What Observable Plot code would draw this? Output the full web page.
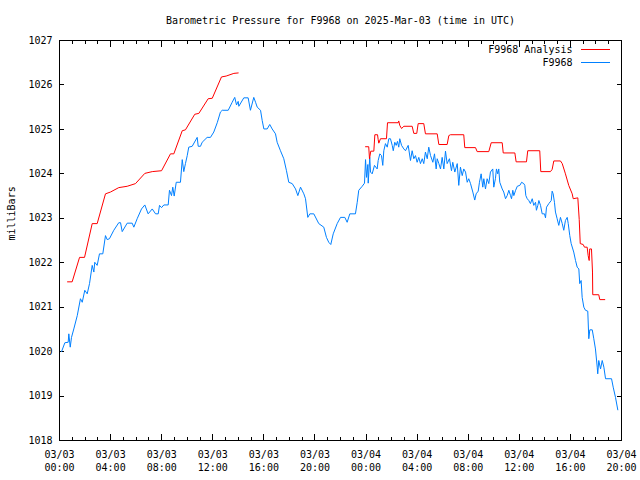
<!DOCTYPE html>
<html><head><meta charset="utf-8">
<script src="https://cdn.jsdelivr.net/npm/d3@7"></script>
<script src="https://cdn.jsdelivr.net/npm/@observablehq/plot@0.6"></script>
<style>body{margin:0;background:#fff} svg{display:block}</style>
</head><body><div id="chart"></div>
<script>
const title = "Barometric Pressure for F9968 on 2025-Mar-03 (time in UTC)";
const yLabel = "milliBars";
const seriesNames = ["F9968 Analysis", "F9968"];
const seriesColors = ["#ff0000", "#0080ff"];
const startTime = Date.UTC(2025, 2, 3, 0, 0);
const spanHours = 44;
const yTicks = [1018, 1019, 1020, 1021, 1022, 1023, 1024, 1025, 1026, 1027];
const xLabelHours = [0, 4, 8, 12, 16, 20, 24, 28, 32, 36, 40, 44];
const xLabelDates = ["03/03", "03/03", "03/03", "03/03", "03/03", "03/03", "03/04", "03/04", "03/04", "03/04", "03/04", "03/04"];
const xLabelTimes = ["00:00", "04:00", "08:00", "12:00", "16:00", "20:00", "00:00", "04:00", "08:00", "12:00", "16:00", "20:00"];

const analysisHours = [0.63,0.99,1.57,1.96,2.56,2.95,3.60,3.99,4.64,5.30,5.95,6.68,7.26,7.99,8.69,8.95,9.61,9.86,10.59,10.91,11.64,11.96,12.68,13.05,13.65,13.99,
 19.0,
 23.96,24.21,24.27,24.37,24.61,24.69,24.90,24.95,25.00,25.13,25.60,25.68,26.52,26.56,26.64,26.78,26.96,27.61,27.74,27.97,28.08,28.52,28.65,29.57,29.70,30.35,30.48,30.61,31.65,31.73,32.57,32.70,33.61,33.80,34.66,34.74,35.65,35.75,36.56,36.66,37.60,37.68,38.44,38.57,38.70,39.22,39.36,39.61,39.87,40.14,40.22,40.58,40.69,40.77,41.00,41.10,41.31,41.39,41.47,41.51,41.65,41.73,41.75,42.22,42.30,42.69];
const analysisValues = [1021.57,1021.57,1022.12,1022.12,1022.88,1022.88,1023.55,1023.59,1023.69,1023.72,1023.78,1024.01,1024.05,1024.07,1024.45,1024.45,1024.97,1024.99,1025.34,1025.36,1025.69,1025.70,1026.18,1026.20,1026.26,1026.27,
 null,
 1024.61,1024.61,1024.34,1024.51,1024.51,1024.88,1024.88,1024.77,1024.69,1024.79,1024.79,1025.15,1025.15,1025.19,1025.09,1025.02,1025.07,1025.07,1024.91,1024.91,1025.13,1025.13,1024.90,1024.90,1024.66,1024.66,1024.86,1024.88,1024.88,1024.59,1024.59,1024.50,1024.50,1024.70,1024.70,1024.47,1024.47,1024.27,1024.27,1024.52,1024.52,1024.05,1024.05,1024.10,1024.29,1024.29,1024.23,1024.00,1023.74,1023.55,1023.44,1023.46,1022.97,1022.43,1022.41,1022.35,1022.35,1022.16,1022.05,1022.31,1022.31,1021.79,1021.28,1021.28,1021.17,1021.17];

const stationHours = [0.16,0.42,0.68,0.73,0.84,0.94,1.12,1.39,1.64,1.78,
 1.98,2.17,2.35,2.56,2.69,2.76,2.95,3.13,3.39,3.60,
 3.73,3.91,4.25,4.64,4.78,4.91,5.30,5.69,5.82,6.08,
 6.42,6.68,6.94,7.26,7.52,7.73,7.83,7.99,8.17,8.51,
 8.61,8.77,8.87,8.98,9.14,9.47,9.61,9.73,9.86,10.00,
 10.12,10.39,10.78,10.86,11.04,11.17,11.56,11.82,12.08,12.35,
 12.60,12.74,13.21,13.52,13.72,13.86,13.99,14.04,14.43,14.77,
 14.95,15.21,15.35,15.48,15.74,15.87,16.00,16.26,16.46,16.65,
 16.91,17.04,17.30,17.56,17.77,17.95,18.22,18.48,18.66,18.87,
 19.13,19.26,19.44,19.60,19.91,20.30,20.69,20.90,21.08,21.24,
 21.43,21.74,22.00,22.34,22.52,22.73,23.17,23.31,23.43,23.70,
 23.88,23.96,24.04,24.14,24.17,24.29,24.35,24.48,24.66,24.87,
 24.95,25.08,
 25.21,25.31,25.39,25.52,25.66,25.78,25.91,26.05,26.13,26.25,
 26.36,26.46,26.56,26.64,26.78,26.96,27.09,27.30,27.48,27.61,
 27.74,27.87,28.00,28.13,28.26,28.40,28.52,28.65,28.79,28.91,
 29.05,29.23,29.36,29.49,29.57,29.70,29.83,29.96,30.09,30.22,
 30.35,30.53,30.69,30.79,30.95,31.14,31.26,31.39,31.53,31.65,
 31.79,31.92,32.04,32.18,32.36,32.51,32.62,32.78,32.88,33.01,
 33.14,33.22,33.35,33.48,33.61,33.74,33.92,34.00,34.13,34.21,
 34.31,34.39,34.47,34.66,34.78,34.92,35.05,35.18,35.31,35.39,
 35.49,35.57,35.71,35.84,36.04,36.18,36.35,36.43,36.51,36.62,
 36.74,36.87,37.01,37.13,37.27,37.34,37.45,37.53,37.66,37.79,
 37.97,38.05,38.13,38.31,38.50,38.57,38.65,38.75,38.83,38.96,
 39.09,39.22,39.36,39.48,39.61,39.75,39.83,39.95,40.06,40.26,
 40.40,40.53,40.66,40.73,40.84,40.92,41.05,41.18,41.36,41.44,
 41.52,41.71,41.83,41.96,42.10,42.14,42.22,42.36,42.49,42.62,
 42.75,43.22,43.35,43.53,43.71];
const stationValues = [1020.00,1020.20,1020.21,1020.40,1020.10,1020.32,1020.51,1020.81,1021.19,1021.11,
 1021.38,1021.30,1021.53,1021.94,1021.79,1022.01,1021.94,1022.20,1022.20,1022.61,
 1022.52,1022.54,1022.73,1022.90,1022.90,1022.70,1022.89,1022.89,1022.80,1022.99,
 1023.21,1023.30,1023.10,1023.21,1023.10,1023.10,1023.29,1023.24,1023.30,1023.30,
 1023.63,1023.51,1023.70,1023.50,1023.81,1023.81,1024.32,1024.05,1024.23,1024.41,
 1024.60,1024.62,1024.82,1024.62,1024.62,1024.71,1024.82,1024.82,1024.94,1025.15,
 1025.39,1025.43,1025.43,1025.61,1025.72,1025.55,1025.63,1025.52,1025.71,1025.71,
 1025.43,1025.72,1025.61,1025.50,1025.43,1025.20,1025.01,1025.01,1025.11,1025.01,
 1024.90,1024.71,1024.52,1024.34,1024.07,1023.81,1023.78,1023.66,1023.51,1023.70,
 1023.55,1023.44,1023.02,1023.10,1023.10,1022.88,1022.80,1022.57,1022.46,1022.41,
 1022.65,1022.88,1023.02,1023.02,1022.91,1023.10,1023.10,1023.36,1023.63,1023.72,
 1023.79,1024.32,1023.92,1024.21,1023.79,1024.37,1024.04,1024.00,1024.19,1024.11,
 1024.30,1024.45,
 1024.41,1024.19,1024.52,1024.68,1024.60,1024.79,1024.79,1024.64,1024.52,1024.71,
 1024.64,1024.73,1024.60,1024.79,1024.64,1024.56,1024.52,1024.64,1024.30,1024.52,
 1024.34,1024.41,1024.26,1024.37,1024.23,1024.34,1024.23,1024.49,1024.34,1024.60,
 1024.41,1024.26,1024.45,1024.11,1024.34,1024.23,1024.11,1024.37,1024.11,1024.51,
 1024.23,1024.34,1024.07,1024.26,1024.04,1024.23,1023.74,1024.15,1023.96,1024.11,
 1024.04,1023.81,1023.89,1023.78,1023.59,1023.41,1023.55,1023.61,1023.81,1024.00,
 1023.70,1023.89,1023.66,1023.89,1023.78,1024.04,1024.11,1023.70,1023.89,1024.11,
 1024.00,1024.11,1023.81,1023.66,1023.59,1023.44,1023.51,1023.63,1023.51,1023.44,
 1023.63,1023.51,1023.63,1023.72,1023.74,1023.81,1023.78,1023.74,1023.51,1023.44,
 1023.40,1023.33,1023.44,1023.29,1023.36,1023.18,1023.29,1023.40,1023.29,1023.10,
 1023.10,1023.01,1023.25,1023.33,1023.40,1023.61,1023.55,1023.36,1023.14,1022.99,
 1022.84,1023.02,1022.88,1022.73,1022.95,1023.02,1022.88,1022.61,1022.43,1022.24,
 1022.05,1021.90,1021.86,1021.53,1021.60,1021.22,1021.00,1020.93,1020.91,1020.29,
 1020.49,1020.49,1020.29,1020.06,1019.65,1019.50,1019.80,1019.61,1019.80,1019.65,
 1019.39,1019.39,1019.20,1018.97,1018.69];

const toDate = h => new Date(startTime + h * 3600e3);
const analysis = analysisHours.map((h, i) => ({time: toDate(h), value: analysisValues[i]}));
const station = stationHours.map((h, i) => ({time: toDate(h), value: stationValues[i]}));
const hourTicks = d3.range(0, spanHours + 1).map(toDate);
const labelTicks = xLabelHours.map(toDate);

const W = 640, H = 480, mL = 59, mR = 19, mT = 40, mB = 40;
const font = "'DejaVu Sans Mono', 'Liberation Mono', monospace";

const plot = Plot.plot({
  width: W, height: H,
  marginLeft: mL, marginRight: mR, marginTop: mT, marginBottom: mB,
  style: {fontFamily: font, fontSize: "10px", background: "#fff", color: "#000", overflow: "visible"},
  x: {type: "utc", domain: [toDate(0), toDate(spanHours)], label: null},
  y: {domain: [yTicks[0], yTicks[yTicks.length - 1]], label: null},
  marks: [
    Plot.axisX(hourTicks, {anchor: "bottom", tickSize: 3, dy: -3, tickFormat: () => "", label: null, shapeRendering: "crispEdges"}),
    Plot.axisX(hourTicks, {anchor: "top", tickSize: 3, dy: 3, tickFormat: () => "", label: null, shapeRendering: "crispEdges"}),
    Plot.axisX(labelTicks, {anchor: "bottom", tickSize: 6, dy: -6, tickFormat: () => "", label: null, shapeRendering: "crispEdges"}),
    Plot.axisX(labelTicks, {anchor: "top", tickSize: 6, dy: 6, tickFormat: () => "", label: null, shapeRendering: "crispEdges"}),
    Plot.axisY(yTicks, {anchor: "left", tickSize: 5, dx: 5, tickFormat: () => "", label: null, shapeRendering: "crispEdges"}),
    Plot.axisY(yTicks, {anchor: "right", tickSize: 5, dx: -5, tickFormat: () => "", label: null, shapeRendering: "crispEdges"}),
    Plot.text(labelTicks, {x: d => d, frameAnchor: "bottom", lineAnchor: "middle", dy: 14, text: (d, i) => xLabelDates[i]}),
    Plot.text(labelTicks, {x: d => d, frameAnchor: "bottom", lineAnchor: "middle", dy: 27, text: (d, i) => xLabelTimes[i]}),
    Plot.text(yTicks, {y: d => d, frameAnchor: "left", lineAnchor: "middle", dx: -7, textAnchor: "end", text: d => String(d)}),
    Plot.text([title], {frameAnchor: "top", lineAnchor: "middle", dy: -20, text: d => d}),
    Plot.text([yLabel], {frameAnchor: "left", lineAnchor: "middle", dx: -48, rotate: -90, text: d => d}),
    Plot.text([seriesNames[0]], {frameAnchor: "top-right", lineAnchor: "middle", dx: -49, dy: 9.5, textAnchor: "end", text: d => d}),
    Plot.text([seriesNames[1]], {frameAnchor: "top-right", lineAnchor: "middle", dx: -49, dy: 22.5, textAnchor: "end", text: d => d}),
    Plot.line(station, {x: "time", y: "value", stroke: seriesColors[1], strokeWidth: 1, curve: "linear"}),
    Plot.line(analysis, {x: "time", y: "value", stroke: seriesColors[0], strokeWidth: 1, curve: "linear"}),
    Plot.frame({stroke: "#000", strokeWidth: 1, shapeRendering: "crispEdges"})
  ]
});

const svg = d3.select(plot);
const legX1 = W - mR - 40, legX2 = W - mR - 11;
[[mT + 9, seriesColors[0]], [mT + 22, seriesColors[1]]].forEach(([y, c]) => {
  svg.append("line").attr("x1", legX1).attr("x2", legX2).attr("y1", y + 0.5).attr("y2", y + 0.5)
    .attr("stroke", c).attr("stroke-width", 1).attr("shape-rendering", "crispEdges");
});
document.getElementById("chart").appendChild(plot);
</script>
</body></html>
